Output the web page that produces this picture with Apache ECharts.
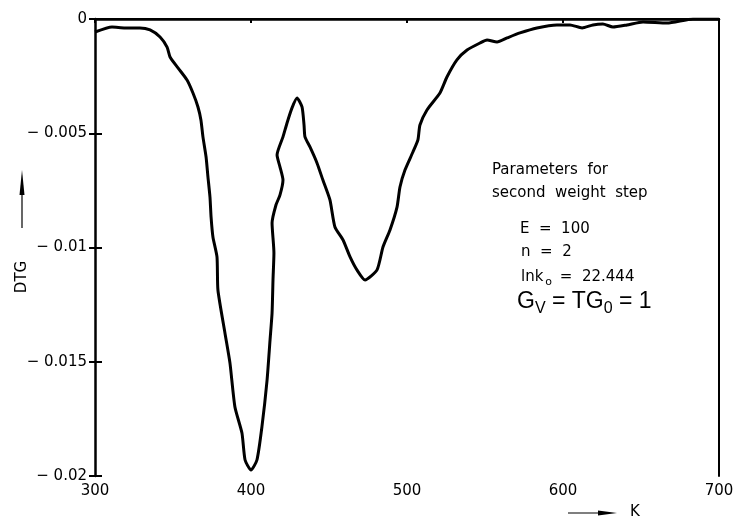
<!DOCTYPE html>
<html>
<head>
<meta charset="utf-8">
<script src="https://cdn.jsdelivr.net/npm/echarts@6/dist/echarts.min.js"></script>
<style>
  html, body { margin: 0; padding: 0; background: #fff; }
  #chart { width: 738px; height: 517px; }
</style>
</head>
<body>
<div id="chart"></div>
<script>
// temperature (K) along the traced curve
const kelvin = [
  300, 310.9, 319.2, 328.8, 335.3, 341.7, 346.2, 348.1, 353.2, 359.0,
  362.8, 366.0, 367.9, 369.2, 371.2, 372.4, 373.7, 374.4, 375.6, 378.2,
  378.8, 383.3, 386.5, 389.7, 394.2, 396.2,
  400.0, 403.8, 407.0, 410.3, 412.2, 413.5, 414.1, 414.7, 413.5, 416.0,
  418.6, 420.5, 418.6, 416.7, 420.5, 423.1, 426.3, 429.5,
  432.7, 434.0, 434.6, 437.8, 442.3, 446.1, 450.6, 453.8, 459.0, 463.5,
  467.9, 473.1, 480.8, 484.6, 489.1, 493.6, 495.5, 498.7, 503.8, 507.0,
  508.3, 512.8, 521.1, 525.6, 532.0, 538.5, 546.8, 551.3, 557.7, 564.1,
  572.4, 583.3, 596.1, 604.5, 612.2, 619.2, 625.6, 632.0, 641.0, 651.3,
  666.7, 683.3, 700
];
// DTG values
const dtg = [
  -0.00057, -0.00035, -0.00039, -0.00039, -0.00048, -0.00079, -0.00123, -0.00166, -0.00214, -0.00267,
  -0.00324, -0.00385, -0.00442, -0.00516, -0.00604, -0.00691, -0.00779, -0.00866, -0.00954, -0.01041,
  -0.01186, -0.01374, -0.01505, -0.01698, -0.01812, -0.0193,
  -0.01974, -0.0193, -0.01785, -0.0158, -0.01405, -0.01287, -0.01142, -0.01024, -0.00893, -0.00814,
  -0.0077, -0.00705, -0.00648, -0.00595, -0.00516, -0.00455, -0.00389, -0.00346,
  -0.00385, -0.00464, -0.00516, -0.0056, -0.0063, -0.00705, -0.00792, -0.0091, -0.00967, -0.01041,
  -0.01098, -0.01142, -0.01098, -0.00998, -0.00923, -0.00823, -0.00735, -0.00661, -0.00582, -0.00529,
  -0.00464, -0.00398, -0.00324, -0.00254, -0.00179, -0.00136, -0.00105, -0.00092, -0.00101, -0.00083,
  -0.00061, -0.00039, -0.00026, -0.00026, -0.00039, -0.00026, -0.00022, -0.00035, -0.00026, -0.00013,
  -0.00018, 0, 0
];
const xTicks = [300, 400, 500, 600, 700];
const yTicks = [0, -0.005, -0.01, -0.015, -0.02];

const chart = echarts.init(document.getElementById('chart'));
const font = '"DejaVu Sans", sans-serif';

const points = kelvin.map((k, i) => [k, dtg[i]]);

const option = {
  animation: false,
  grid: { left: 95, right: 19, top: 19, bottom: 41 },
  xAxis: [
    {
      type: 'value',
      min: xTicks[0],
      max: xTicks[xTicks.length - 1],
      interval: 100,
      axisLine: { show: true, lineStyle: { color: '#000', width: 2.5 } },
      axisTick: { show: true, length: 4, lineStyle: { color: '#000', width: 2 } },
      splitLine: { show: false },
      axisLabel: { color: '#000', fontSize: 15, fontFamily: font, margin: 8 }
    },
    {
      type: 'value',
      position: 'top',
      min: 300,
      max: 700,
      axisLine: { show: true, lineStyle: { color: '#000', width: 2 } },
      axisTick: { show: false },
      axisLabel: { show: false },
      splitLine: { show: false }
    }
  ],
  yAxis: [
    {
      type: 'value',
      min: yTicks[yTicks.length - 1],
      max: yTicks[0],
      interval: 0.005,
      axisLine: { show: true, lineStyle: { color: '#000', width: 2.5 } },
      axisTick: { show: true, length: 6, lineStyle: { color: '#000', width: 2 } },
      splitLine: { show: false },
      axisLabel: {
        color: '#000', fontSize: 15, fontFamily: font, margin: 8,
        formatter: v => (v === 0 ? '0' : '\u2212 ' + Math.abs(v))
      }
    },
    {
      // inward half of the cross ticks
      type: 'value',
      position: 'left',
      offset: 0,
      min: -0.02,
      max: 0,
      interval: 0.005,
      axisLine: { show: false },
      axisTick: { show: true, inside: true, length: 7, lineStyle: { color: '#000', width: 2 } },
      axisLabel: { show: false },
      splitLine: { show: false }
    },
    {
      type: 'value',
      position: 'right',
      min: -0.02,
      max: 0,
      axisLine: { show: true, lineStyle: { color: '#000', width: 2 } },
      axisTick: { show: false },
      axisLabel: { show: false },
      splitLine: { show: false }
    }
  ],
  series: [
    {
      type: 'line',
      data: points,
      showSymbol: false,
      smooth: 0.2,
      lineStyle: { color: '#000', width: 3 }
    }
  ],
  graphic: [
    // y axis name with arrow
    { type: 'line', shape: { x1: 22, y1: 228, x2: 22, y2: 180 }, style: { stroke: '#000', lineWidth: 1.2 } },
    { type: 'polygon', shape: { points: [[22, 170], [19.5, 195], [24.5, 195]] }, style: { fill: '#000' } },
    {
      type: 'text', x: 22, y: 277, rotation: Math.PI / 2,
      style: { text: 'DTG', font: '15px ' + font, fill: '#000', align: 'center', verticalAlign: 'middle', textAlign: 'center', textVerticalAlign: 'middle' }
    },
    // x axis name with arrow
    { type: 'line', shape: { x1: 568, y1: 513, x2: 605, y2: 513 }, style: { stroke: '#000', lineWidth: 1.2 } },
    { type: 'polygon', shape: { points: [[617, 513], [598, 510.5], [598, 515.5]] }, style: { fill: '#000' } },
    {
      type: 'text', x: 630, y: 512,
      style: { text: 'K', font: '15px ' + font, fill: '#000', verticalAlign: 'middle', textVerticalAlign: 'middle' }
    },
    // parameter block
    {
      type: 'text', x: 492, y: 170,
      style: { text: 'Parameters  for', font: '15px ' + font, fill: '#000', verticalAlign: 'middle', textVerticalAlign: 'middle' }
    },
    {
      type: 'text', x: 492, y: 193,
      style: { text: 'second  weight  step', font: '15px ' + font, fill: '#000', verticalAlign: 'middle', textVerticalAlign: 'middle' }
    },
    {
      type: 'text', x: 520, y: 229,
      style: { text: 'E  =  100', font: '15px ' + font, fill: '#000', verticalAlign: 'middle', textVerticalAlign: 'middle' }
    },
    {
      type: 'text', x: 521, y: 252,
      style: { text: 'n  =  2', font: '15px ' + font, fill: '#000', verticalAlign: 'middle', textVerticalAlign: 'middle' }
    },
    {
      type: 'text', x: 521, y: 277,
      style: {
        text: '{a|lnk}{s|o}{a| =  22.444}',
        fill: '#000', verticalAlign: 'middle', textVerticalAlign: 'middle',
        rich: {
          a: { font: '15px ' + font, fill: '#000', lineHeight: 22, verticalAlign: 'middle' },
          s: { font: '11px ' + font, fill: '#000', lineHeight: 22, verticalAlign: 'bottom', padding: [0, 3, 0, 2] }
        }
      }
    },
    {
      type: 'text', x: 517, y: 302,
      style: {
        text: '{g|G}{s|V}{g| = TG}{s|0}{g| = 1}',
        fill: '#000', verticalAlign: 'middle', textVerticalAlign: 'middle',
        rich: {
          g: { font: '23px "Liberation Sans", sans-serif', fill: '#000', lineHeight: 30, verticalAlign: 'middle' },
          s: { font: '16px "Liberation Sans", sans-serif', fill: '#000', lineHeight: 30, verticalAlign: 'bottom' }
        }
      }
    }
  ]
};

chart.setOption(option);
window.addEventListener('resize', () => chart.resize());
</script>
</body>
</html>
